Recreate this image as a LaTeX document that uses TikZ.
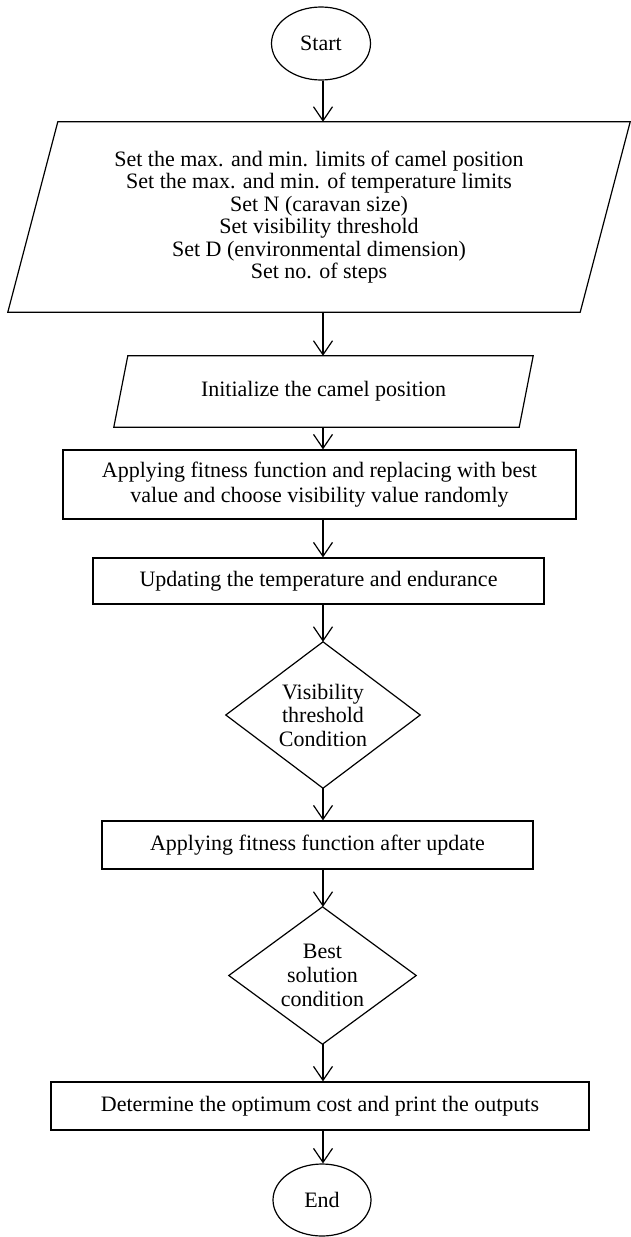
\documentclass[tikz,border=0pt]{standalone}
\usepackage{fontspec}
\setmainfont{Liberation Serif}
\usetikzlibrary{shapes.geometric,arrows.meta}
\begin{document}
\begin{tikzpicture}[x=1pt,y=-1pt,
  every node/.style={font=\fontsize{22}{23.5}\selectfont, align=center, inner sep=0pt},
  term/.style={ellipse, draw, line width=1.2pt},
  procbox/.style={rectangle, draw, line width=1.2pt},
  outline/.style={line width=1.2pt, line join=miter},
  conn/.style={line width=1.2pt, -{Straight Barb[length=14pt,width=19pt,line width=1.2pt]}}]
\useasboundingbox (0,0) rectangle (630,1237);
\coordinate (col) at (323,0);

\node[term, minimum width=99pt, minimum height=73pt] (start) at (321,43.5) {Start};

\node[minimum width=622pt, minimum height=190pt, font=\fontsize{22}{22.4}\selectfont] (in1) at (319,217)
  {Set the max. and min. limits of camel position\\
   Set the max. and min. of temperature limits\\
   Set N (caravan size)\\
   Set visibility threshold\\
   Set D (environmental dimension)\\
   Set no. of steps};
\draw[outline] ([xshift=50pt]in1.north west) -- (in1.north east) -- ([xshift=-50pt]in1.south east) -- (in1.south west) -- cycle;

\node[minimum width=419pt, minimum height=71pt] (in2) at (323.5,391.5) {Initialize the camel position};
\draw[outline] ([xshift=14pt]in2.north west) -- (in2.north east) -- ([xshift=-14pt]in2.south east) -- (in2.south west) -- cycle;

\node[procbox, minimum width=513pt, minimum height=69pt, font=\fontsize{22}{25}\selectfont] (b1) at (319.5,484.5)
  {Applying fitness function and replacing with best\\value and choose visibility value randomly};

\node[procbox, minimum width=451pt, minimum height=46pt] (b2) at (318.5,581) {Updating the temperature and endurance};

\node[minimum width=194pt, minimum height=146pt] (d1) at (323,715) {Visibility\\threshold\\Condition};
\draw[outline] (d1.north) -- (d1.east) -- (d1.south) -- (d1.west) -- cycle;

\node[procbox, minimum width=431pt, minimum height=48pt] (b3) at (317.5,845) {Applying fitness function after update};

\node[minimum width=187pt, minimum height=137pt, font=\fontsize{22}{24}\selectfont] (d2) at (322.5,975.5) {Best\\solution\\condition};
\draw[outline] (d2.north) -- (d2.east) -- (d2.south) -- (d2.west) -- cycle;

\node[procbox, minimum width=538pt, minimum height=48pt] (b4) at (320,1106) {Determine the optimum cost and print the outputs};

\node[term, minimum width=98pt, minimum height=72pt] (end) at (322,1200) {End};

\draw[conn] (start.south -| col) -- (in1.north -| col);
\draw[conn] (in1.south -| col) -- (in2.north -| col);
\draw[conn] (in2.south -| col) -- (b1.north -| col);
\draw[conn] (b1.south -| col) -- (b2.north -| col);
\draw[conn] (b2.south -| col) -- (d1.north);
\draw[conn] (d1.south) -- (b3.north -| col);
\draw[conn] (b3.south -| col) -- (d2.north -| col);
\draw[conn] (d2.south -| col) -- (b4.north -| col);
\draw[conn] (b4.south -| col) -- (end.north -| col);
\end{tikzpicture}
\end{document}
